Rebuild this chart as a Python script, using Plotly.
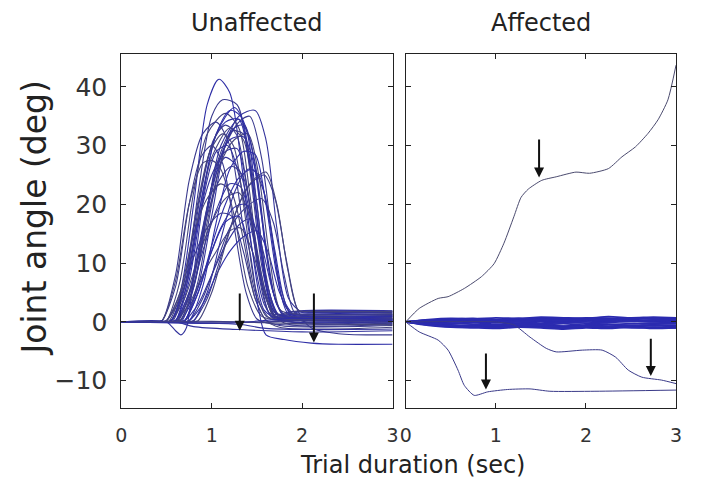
import plotly.graph_objects as go

# ---------------- data ----------------
X_TICKS = [0, 1, 2, 3]
Y_TICKS = [-10, 0, 10, 20, 30, 40]
PANEL_TITLES = ["Unaffected", "Affected"]

# Unaffected limb: trials as (time [s], angle [deg]) key points
UNAFF_CURVES = [
    [(0,0),(0.45,0),(0.5,0.2),(0.65,5),(0.8,20),(0.95,37),(1.08,41.3),(1.2,39),(1.32,28),(1.45,12),(1.58,2),(1.75,0.5),(1.9,0.5),(3,0.5)],
    [(0,0),(0.5,0),(0.55,0.2),(0.7,6),(0.85,22),(1.0,35),(1.12,37.8),(1.28,37),(1.42,26),(1.56,9),(1.7,1.5),(1.9,1),(2.1,1.2),(3,1.2)],
    [(0,0),(0.65,0),(0.7,0.2),(0.85,6),(1.0,18),(1.15,30),(1.3,35),(1.48,36),(1.6,31),(1.72,16),(1.85,4),(2.0,1.6),(2.2,1.6),(3,1.6)],
    [(0,0),(0.45,0),(0.5,0.2),(0.65,7),(0.8,22),(0.95,32),(1.15,35.5),(1.3,33),(1.42,22),(1.55,7),(1.7,1),(1.85,0.8),(3,0.8)],
    [(0,0),(0.55,0),(0.6,0.2),(0.75,7),(0.9,21),(1.05,32),(1.25,36.5),(1.38,33),(1.5,20),(1.62,6),(1.75,1),(1.9,0.5),(3,0.5)],
    [(0,0),(0.4,0),(0.45,0.2),(0.6,8),(0.75,24),(0.9,32),(1.05,34),(1.2,30),(1.35,16),(1.5,4),(1.65,0.5),(1.8,0.3),(3,0.3)],
    [(0,0),(0.6,0),(0.65,0.2),(0.8,6),(0.95,19),(1.1,30),(1.3,34.5),(1.42,31),(1.55,18),(1.68,5),(1.8,1),(1.95,1),(3,1.0)],
    [(0,0),(0.5,0),(0.55,0.2),(0.7,5),(0.85,18),(1.0,28),(1.2,33),(1.35,31),(1.5,18),(1.62,5),(1.75,1.2),(1.9,1.8),(3,1.8)],
    [(0,0),(0.55,0),(0.6,0.2),(0.75,5),(0.9,16),(1.05,26),(1.2,31),(1.35,31.5),(1.48,26),(1.6,12),(1.72,3),(1.85,0.5),(2.0,0.2),(3,0.2)],
    [(0,0),(0.4,0),(0.45,0.2),(0.6,6),(0.75,20),(0.88,28),(1.0,30),(1.12,27),(1.25,16),(1.38,5),(1.5,0.5),(1.65,-0.3),(3,-0.3)],
    [(0,0),(0.55,0),(0.6,0.2),(0.75,5),(0.9,15),(1.0,23),(1.15,28),(1.3,26),(1.45,16),(1.58,5),(1.7,0.8),(1.85,0.6),(3,0.6)],
    [(0,0),(0.4,0),(0.45,0.2),(0.6,7),(0.75,20),(0.9,27),(1.0,27.5),(1.1,26),(1.25,18),(1.4,6),(1.55,1),(1.7,0.4),(3,0.4)],
    [(0,0),(0.65,0),(0.7,0.2),(0.85,5),(1.0,13),(1.15,20),(1.3,24.5),(1.45,26),(1.58,22),(1.7,12),(1.82,3),(1.95,0.8),(2.1,1.3),(3,1.3)],
    [(0,0),(0.75,0),(0.8,0.2),(0.95,4),(1.1,11),(1.25,18),(1.4,23),(1.58,25),(1.7,21),(1.82,11),(1.95,2),(2.1,-1),(2.4,-2),(3,-2.2)],
    [(0,0),(0.55,0),(0.6,0.2),(0.75,4),(0.9,12),(1.05,19),(1.2,23.5),(1.32,23),(1.45,15),(1.58,5),(1.7,0.8),(1.85,1.2),(3,1.2)],
    [(0,0),(0.5,0),(0.55,0.2),(0.7,4),(0.85,11),(1.0,17),(1.15,21),(1.3,22),(1.42,18),(1.55,8),(1.68,1),(1.8,0.9),(3,0.9)],
    [(0,0),(0.6,0),(0.65,0.2),(0.8,4),(0.95,10),(1.1,16),(1.25,19.5),(1.38,20),(1.5,15),(1.62,6),(1.75,0.5),(1.9,0.0),(3,0.0)],
    [(0,0),(0.45,0),(0.5,0.2),(0.65,4),(0.8,11),(0.95,16),(1.1,18.5),(1.22,18),(1.35,12),(1.48,4),(1.6,0.3),(1.75,-0.6),(3,-0.6)],
    [(0,0),(0.65,0),(0.7,0.2),(0.85,3),(1.0,8),(1.15,13),(1.3,16.5),(1.42,17.5),(1.55,13),(1.68,5),(1.8,1),(1.95,1.5),(3,1.5)],
    [(0,0),(0.55,0),(0.6,0.2),(0.75,3),(0.9,8),(1.05,12),(1.2,15.5),(1.32,16),(1.45,12),(1.58,5),(1.7,1),(1.85,0.7),(3,0.7)],
    [(0,0),(0.7,0),(0.75,0.2),(0.9,3),(1.05,8),(1.2,12),(1.35,14.5),(1.5,15.5),(1.62,12),(1.75,5),(1.88,1.5),(2.0,1.9),(3,1.9)],
    [(0,0),(0.7,0),(0.75,0.2),(0.9,4),(1.05,10),(1.2,16),(1.38,19.5),(1.55,21),(1.68,17),(1.8,8),(1.92,1.5),(2.05,1.1),(3,1.1)],
    [(0,0),(0.5,0),(0.55,0.2),(0.7,6),(0.85,17),(1.0,25),(1.15,29),(1.28,29.5),(1.4,22),(1.52,9),(1.65,1),(1.8,0.1),(3,0.1)],
    [(0,0),(0.6,0),(0.65,0.2),(0.8,6),(0.95,17),(1.1,27),(1.25,31),(1.4,32),(1.52,25),(1.64,11),(1.76,2),(1.9,1.4),(3,1.4)],
    [(0,0),(0.55,0),(0.6,0.2),(0.75,8),(0.9,22),(1.05,32),(1.2,36),(1.32,35),(1.45,24),(1.58,8),(1.7,1),(1.85,0.6),(3,0.6)],
    [(0,0),(0.65,0),(0.7,0.2),(0.85,7),(1.0,20),(1.15,30),(1.3,34),(1.42,35),(1.55,28),(1.68,13),(1.8,3),(1.95,0.5),(2.1,-0.2),(3,-0.2)],
    [(0,0),(0.5,0),(0.6,-1.5),(0.66,-2.2),(0.72,-1),(0.8,8),(0.92,22),(1.05,29),(1.18,30),(1.3,25),(1.45,12),(1.58,3),(1.7,0.5),(1.85,0.3),(3,0.3)],
    [(0,0),(0.45,0),(0.5,0.2),(0.65,5),(0.8,15),(0.95,21),(1.1,23.5),(1.22,22),(1.35,14),(1.48,4),(1.6,0.3),(1.75,-0.9),(3,-0.9)],
    [(0,0),(0.5,0),(0.55,0.2),(0.7,7),(0.85,20),(1.0,30),(1.15,34),(1.3,34.5),(1.42,27),(1.55,12),(1.68,2),(1.8,0.9),(3,0.9)],
    [(0,0),(0.57,0),(0.62,0.2),(0.78,6),(0.93,18),(1.08,28),(1.22,32.5),(1.35,32),(1.48,22),(1.6,8),(1.72,1.2),(1.85,1.7),(3,1.7)],
    [(0,0),(0.75,0),(0.8,0.2),(0.95,5),(1.1,14),(1.25,22),(1.4,26),(1.52,25),(1.64,17),(1.76,6),(1.88,1),(2.0,0.4),(3,0.4)],
    [(0,0),(0.8,0),(0.85,0.2),(1.0,5),(1.15,13),(1.3,20),(1.45,24),(1.6,25.5),(1.72,20),(1.84,9),(1.96,2),(2.1,1.8),(3,1.8)],
    [(0,0),(0.65,0),(0.7,0.2),(0.85,5),(1.0,12),(1.15,17),(1.3,18),(1.42,12),(1.52,2),(1.6,-2.2),(1.8,-3),(2.1,-3.6),(2.4,-3.8),(3,-3.8)],
    [(0,0),(0.52,0),(0.57,0.2),(0.72,7),(0.87,21),(1.02,31),(1.15,33.5),(1.27,32),(1.4,22),(1.52,8),(1.64,1.5),(1.8,1.3),(3,1.3)],
    [(0,0),(0.62,0),(0.67,0.2),(0.82,7),(0.97,20),(1.12,29),(1.25,33),(1.36,33.5),(1.48,27),(1.6,13),(1.72,3),(1.85,0.2),(3,0.2)],
    [(0,0),(0.48,0),(0.53,0.2),(0.68,6),(0.83,19),(0.98,29),(1.12,32),(1.24,30),(1.36,19),(1.48,6),(1.6,1),(1.75,0.5),(3,0.5)],
    [(0,0),(0.7,0),(0.75,0.2),(0.9,6),(1.05,17),(1.2,26),(1.35,29),(1.48,28.5),(1.6,20),(1.72,8),(1.84,1.5),(1.98,1.0),(3,1.0)],
    [(0,0),(0.58,0),(0.63,0.2),(0.78,6),(0.93,17),(1.08,24),(1.22,26.5),(1.34,25),(1.46,16),(1.58,6),(1.7,1),(1.85,-0.4),(3,-0.4)],
    [(0,0),(0.6,0),(0.8,-0.8),(1.3,-1.3),(2.0,-1.7),(3,-1.5)],
    [(0,0),(1.0,0.1),(2.0,-0.3),(3,-0.5)],
    [(0,0),(1.2,-0.2),(1.9,0.6),(3,0.3)],
    [(0,0),(1.5,0),(2.0,0.2),(3,-0.1)],
    [(0,0),(1.3,-0.4),(1.6,-1.1),(2.2,-1.3),(3,-1.2)],
]

# Affected limb: three outlying trials
AFF_UP = [(0,0),(0.15,2.3),(0.36,4.0),(0.47,4.3),(0.65,5.7),(0.84,7.7),(0.98,9.9),(1.09,13.4),(1.2,17.9),(1.28,21.2),
          (1.36,22.6),(1.51,24.1),(1.67,24.7),(1.89,25.5),(2.04,25.3),(2.25,26.1),(2.4,28.1),(2.55,29.8),(2.69,32.1),
          (2.8,34.4),(2.91,37.8),(3.0,43.7)]
AFF_LOW_A = [(0,0),(0.15,-1.7),(0.36,-3.1),(0.47,-4.8),(0.58,-8.2),(0.65,-10.8),(0.76,-12.5),(0.91,-11.9),(1.13,-11.5),
             (1.38,-11.4),(1.6,-11.8),(2.1,-11.8),(3.0,-11.6)]
AFF_LOW_B = [(0,0),(1.0,0),(1.2,-0.5),(1.38,-2.6),(1.56,-4.5),(1.67,-5.1),(1.96,-4.8),(2.18,-4.8),(2.33,-6.0),(2.47,-8.2),
             (2.62,-9.4),(2.84,-9.9),(3.0,-10.5)]

# Affected limb: trials that stay near zero
AFF_FLAT_T = [0, 0.25, 0.5, 0.75, 1.0, 1.25, 1.5, 1.75, 2.0, 2.25, 2.5, 2.75, 3.0]
AFF_FLAT = [
    [0, 0.4, 0.6, 0.5, 0.7, 0.6, 0.8, 0.7, 0.6, 0.9, 0.7, 0.8, 0.7],
    [0, 0.3, 0.5, 0.6, 0.4, 0.5, 0.6, 0.5, 0.7, 0.6, 0.5, 0.7, 0.6],
    [0, 0.1, 0.3, 0.4, 0.2, 0.3, 0.5, 0.4, 0.3, 0.6, 0.4, 0.3, 0.5],
    [0, 0.0, 0.1, -0.1, 0.0, 0.2, 0.1, 0.0, 0.2, 0.1, 0.3, 0.1, 0.2],
    [0, -0.1, 0.0, 0.1, -0.1, 0.0, -0.2, 0.1, 0.0, -0.1, 0.1, 0.0, -0.1],
    [0, -0.2, -0.3, -0.1, -0.4, -0.2, -0.3, -0.1, -0.2, -0.4, -0.3, -0.2, -0.3],
    [0, -0.3, -0.5, -0.6, -0.4, -0.6, -0.5, -0.7, -0.5, -0.4, -0.6, -0.5, -0.6],
    [0, -0.4, -0.7, -0.6, -0.8, -0.7, -0.9, -0.7, -0.8, -1.0, -0.8, -0.9, -0.8],
    [0, -0.5, -0.8, -0.9, -0.7, -0.9, -0.8, -1.0, -0.9, -0.8, -1.0, -0.9, -1.0],
    [0, -0.6, -0.9, -1.0, -1.1, -0.9, -1.0, -1.2, -1.0, -1.1, -0.9, -1.1, -1.0],
    [0, 0.2, 0.1, 0.3, 0.2, 0.0, 0.3, 0.2, 0.4, 0.2, 0.1, 0.3, 0.1],
    [0, -0.3, -0.2, -0.4, -0.6, -0.4, -0.5, -0.3, -0.6, -0.5, -0.6, -0.5, -0.6],
    [0, 0.3, 0.2, 0.5, 0.3, 0.6, 0.4, 0.3, 0.5, 0.4, 0.6, 0.5, 0.4],
    [0, -0.5, -0.6, -0.8, -0.9, -0.7, -0.6, -0.9, -0.7, -0.8, -0.7, -0.6, -0.8],
]

# Arrows: (time, start angle, tip angle)
UNAFF_ARROWS = [(1.31, 5.1, -1.5), (2.13, 5.1, -3.5)]
AFF_ARROWS = [(1.48, 31.3, 24.6), (0.89, -5.1, -11.5), (2.72, -2.6, -9.2)]

# ---------------- figure ----------------
LINE_COLORS = ["#2e2ea6", "#3a3a8e", "#33339c", "#45457e"]
FONT = "DejaVu Sans"

fig = go.Figure()

for i, c in enumerate(UNAFF_CURVES):
    fig.add_trace(go.Scatter(
        x=[p[0] for p in c], y=[p[1] for p in c], mode="lines",
        line=dict(color=LINE_COLORS[i % len(LINE_COLORS)], width=1.1, shape="spline", smoothing=0.8),
        xaxis="x", yaxis="y", hoverinfo="skip"))

for vals in AFF_FLAT:
    fig.add_trace(go.Scatter(
        x=AFF_FLAT_T, y=vals, mode="lines",
        line=dict(color="#2b2bb0", width=1.8, shape="spline", smoothing=0.6),
        xaxis="x2", yaxis="y2", hoverinfo="skip"))

for c, col in [(AFF_UP, "#4a4a6e"), (AFF_LOW_A, "#3a3a88"), (AFF_LOW_B, "#3a3a88")]:
    fig.add_trace(go.Scatter(
        x=[p[0] for p in c], y=[p[1] for p in c], mode="lines",
        line=dict(color=col, width=1, shape="spline", smoothing=0.6),
        xaxis="x2", yaxis="y2", hoverinfo="skip"))

annotations = []
for (t, y0, y1) in UNAFF_ARROWS:
    annotations.append(dict(x=t, y=y1, ax=t, ay=y0, xref="x", yref="y", axref="x", ayref="y",
                            text="", showarrow=True, arrowhead=2, arrowsize=1, arrowwidth=2, arrowcolor="#111"))
for (t, y0, y1) in AFF_ARROWS:
    annotations.append(dict(x=t, y=y1, ax=t, ay=y0, xref="x2", yref="y2", axref="x2", ayref="y2",
                            text="", showarrow=True, arrowhead=2, arrowsize=1, arrowwidth=2, arrowcolor="#111"))

XD1 = [117.3 / 701, 393.3 / 701]
XD2 = [406.7 / 701, 681.7 / 701]
YD = [(480 - 408.3) / 480, (480 - 54) / 480]

annotations.append(dict(text=PANEL_TITLES[0], x=(XD1[0] + XD1[1]) / 2, y=1 - 23 / 480, xref="paper", yref="paper",
                        showarrow=False, xanchor="center", yanchor="middle", font=dict(family=FONT, size=24, color="#222")))
annotations.append(dict(text=PANEL_TITLES[1], x=(XD2[0] + XD2[1]) / 2, y=1 - 23 / 480, xref="paper", yref="paper",
                        showarrow=False, xanchor="center", yanchor="middle", font=dict(family=FONT, size=24, color="#222")))
annotations.append(dict(text="Trial duration (sec)", x=414 / 701, y=1 - 465 / 480, xref="paper", yref="paper",
                        showarrow=False, xanchor="center", yanchor="middle", font=dict(family=FONT, size=24, color="#222")))
annotations.append(dict(text="Joint angle (deg)", x=30 / 701, y=1 - 218 / 480, xref="paper", yref="paper",
                        showarrow=False, xanchor="center", yanchor="middle", textangle=-90,
                        font=dict(family=FONT, size=33, color="#222")))

axis_common = dict(showgrid=False, zeroline=False, showline=True, linecolor="#222", linewidth=1,
                   mirror="ticks", ticks="inside", ticklen=5, tickcolor="#222", tickwidth=1)

fig.update_layout(
    width=701, height=480, margin=dict(l=0, r=0, t=0, b=0),
    paper_bgcolor="white", plot_bgcolor="white", showlegend=False,
    xaxis=dict(domain=XD1, range=[0, 3], tickvals=X_TICKS, anchor="y",
               tickfont=dict(family=FONT, size=19, color="#333"), ticklabelstandoff=10, **axis_common),
    yaxis=dict(domain=YD, range=[-14.7, 45.6], tickvals=Y_TICKS, anchor="x",
               tickfont=dict(family=FONT, size=25, color="#333"), ticklabelstandoff=8, **axis_common),
    xaxis2=dict(domain=XD2, range=[0, 3], tickvals=X_TICKS, anchor="y2",
                tickfont=dict(family=FONT, size=19, color="#333"), ticklabelstandoff=10, **axis_common),
    yaxis2=dict(domain=YD, range=[-14.7, 45.6], tickvals=Y_TICKS, anchor="x2", showticklabels=False, **axis_common),
    annotations=annotations,
)

fig.write_html("out.html", config={"displayModeBar": False},
               post_script="document.body.style.margin='0px';")
